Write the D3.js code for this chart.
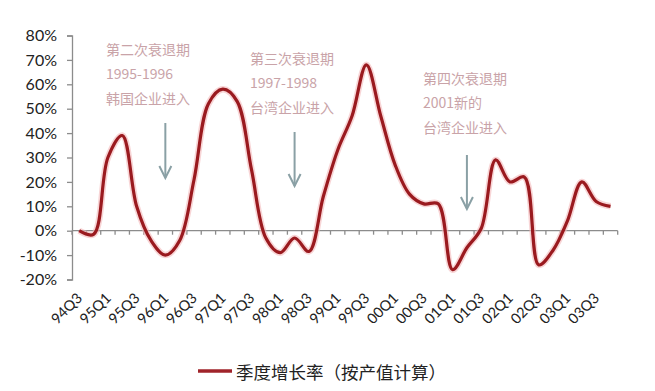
<!DOCTYPE html>
<html>
<head>
<meta charset="utf-8">
<script src="https://cdn.jsdelivr.net/npm/d3@7"></script>
<style>
  body { margin: 0; background: #fff; }
  svg { display: block; }
</style>
</head>
<body>
<div id="chart"></div>
<script>
var width = 655;
var height = 391;

// quarters shown on the x axis
var quarters = ["94Q3", "94Q4",
  "95Q1", "95Q2", "95Q3", "95Q4",
  "96Q1", "96Q2", "96Q3", "96Q4",
  "97Q1", "97Q2", "97Q3", "97Q4",
  "98Q1", "98Q2", "98Q3", "98Q4",
  "99Q1", "99Q2", "99Q3", "99Q4",
  "00Q1", "00Q2", "00Q3", "00Q4",
  "01Q1", "01Q2", "01Q3", "01Q4",
  "02Q1", "02Q2", "02Q3", "02Q4",
  "03Q1", "03Q2", "03Q3", "03Q4"];

// quarterly growth rate, %
var growth = [0, -1.5,
  30, 39, 10, -4,
  -10, -4, 21, 52,
  58, 53, 25, -3,
  -9, -3, -8.5, 14,
  33, 47, 68, 47,
  27, 15, 11, 11,
  -16, -7, 1, 29,
  20, 22, -14, -8,
  4, 20, 12, 10];

var yTicks = [-20, -10, 0, 10, 20, 30, 40, 50, 60, 70, 80];
var seriesName = "季度增长率（按产值计算）";

var notes = [
  { lines: ["第二次衰退期", "1995-1996", "韩国企业进入"], x: 106, y: 50, at: "96Q1", y0: 123, y1: 178 },
  { lines: ["第三次衰退期", "1997-1998", "台湾企业进入"], x: 250, y: 59, at: "98Q2", y0: 132, y1: 186 },
  { lines: ["第四次衰退期", "2001新的", "台湾企业进入"], x: 423, y: 79, at: "01Q2", y0: 155, y1: 209 }
];

var svg = d3.select("#chart").append("svg")
  .attr("width", width)
  .attr("height", height);

var x = d3.scaleBand()
  .domain(quarters)
  .range([72, 617.7])
  .padding(0);

var y = d3.scaleLinear()
  .domain([-20, 80])
  .range([279.5, 35.5]);

var cx = function(q) { return x(q) + x.bandwidth() / 2; };

// y axis
var yAxis = svg.append("g")
  .attr("transform", "translate(72,0)")
  .call(d3.axisLeft(y).tickValues(yTicks).tickSize(5).tickPadding(10)
    .tickFormat(function(d) { return d + "%"; }));
yAxis.select(".domain").attr("stroke", "#8c8c8c").attr("stroke-width", 1.3);
yAxis.selectAll(".tick line").attr("stroke", "#8c8c8c").attr("stroke-width", 1.3);
yAxis.selectAll(".tick text")
  .attr("fill", "#222")
  .style("font-family", "Lato, 'Liberation Sans', sans-serif")
  .style("font-size", "16px");

// x axis at 0%
var xg = svg.append("g");
xg.append("line")
  .attr("x1", x.range()[0]).attr("x2", x.range()[1])
  .attr("y1", y(0)).attr("y2", y(0))
  .attr("stroke", "#8c8c8c").attr("stroke-width", 1.3);

var bounds = quarters.map(function(q) { return x(q); }).concat([x.range()[1]]);
xg.selectAll(".xt").data(bounds).enter().append("line")
  .attr("x1", function(d) { return d; }).attr("x2", function(d) { return d; })
  .attr("y1", y(0)).attr("y2", y(0) + 4)
  .attr("stroke", "#8c8c8c").attr("stroke-width", 1.3);

xg.selectAll(".xl")
  .data(quarters.filter(function(q, i) { return i % 2 === 0; }))
  .enter().append("text")
  .attr("transform", function(q) { return "translate(" + (cx(q) + 4) + ",299) rotate(-45)"; })
  .attr("text-anchor", "end")
  .attr("fill", "#222")
  .style("font-family", "Lato, 'Liberation Sans', sans-serif")
  .style("font-size", "14.5px")
  .text(function(q) { return q; });

// series line with soft halo
var line = d3.line()
  .x(function(d, i) { return cx(quarters[i]); })
  .y(function(d) { return y(d); })
  .curve(d3.curveCatmullRom.alpha(0.5));

svg.append("path")
  .datum(growth)
  .attr("d", line)
  .attr("fill", "none")
  .attr("stroke", "#f3b9bb")
  .attr("stroke-width", 6.5)
  .attr("stroke-linejoin", "round")
  .attr("opacity", 0.6);

svg.append("path")
  .datum(growth)
  .attr("d", line)
  .attr("fill", "none")
  .attr("stroke", "#9a1a1f")
  .attr("stroke-width", 3.2)
  .attr("stroke-linejoin", "round");

// annotations
notes.forEach(function(n) {
  n.lines.forEach(function(t, i) {
    svg.append("text")
      .attr("x", n.x)
      .attr("y", n.y + i * 24.5)
      .attr("dy", "0.35em")
      .attr("fill", "#c9a3a8")
      .style("font-family", "'Noto Sans CJK SC', 'Open Sans', sans-serif")
      .style("font-size", "14px")
      .text(t);
  });
  var ax = cx(n.at);
  svg.append("line")
    .attr("x1", ax).attr("x2", ax)
    .attr("y1", n.y0).attr("y2", n.y1)
    .attr("stroke", "#8aa0a5").attr("stroke-width", 2);
  svg.append("path")
    .attr("d", "M" + (ax - 6) + "," + (n.y1 - 12) + "L" + ax + "," + n.y1 + "L" + (ax + 6) + "," + (n.y1 - 12))
    .attr("fill", "none")
    .attr("stroke", "#8aa0a5").attr("stroke-width", 2);
});

// legend
svg.append("line")
  .attr("x1", 198).attr("x2", 232)
  .attr("y1", 371).attr("y2", 371)
  .attr("stroke", "#a0232a").attr("stroke-width", 3.5);
svg.append("text")
  .attr("x", 236)
  .attr("y", 373)
  .attr("dy", "0.35em")
  .attr("fill", "#222")
  .style("font-family", "'Noto Sans CJK SC', sans-serif")
  .style("font-size", "17.5px")
  .text(seriesName);
</script>
</body>
</html>
